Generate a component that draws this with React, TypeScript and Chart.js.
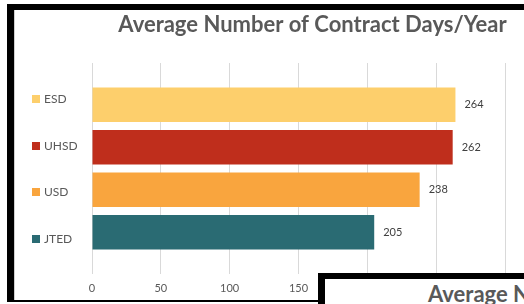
import React, { useEffect, useRef } from 'react';
import { Chart, registerables } from 'chart.js';

Chart.register(...registerables);

const titleText = 'Average Number of Contract Days/Year';
const secondTitleText = 'Average Number of Contract Days/Year';
const categories = [''];
const seriesNames = ['ESD', 'UHSD', 'USD', 'JTED'];
const seriesValues = [264, 262, 238, 205];
const seriesColors = ['#FDCF6C', '#BF2E1C', '#F9A53E', '#2A6B73'];
const xMin = 0;
const xMax = 300;
const xStep = 50;

const FONT = 'Lato, "Open Sans", sans-serif';

const sideLegend = {
  id: 'sideLegend',
  afterDraw(chart: any) {
    const ctx = chart.ctx;
    ctx.save();
    ctx.font = `12px ${FONT}`;
    ctx.textBaseline = 'middle';
    ctx.textAlign = 'left';
    chart.data.datasets.forEach((ds: any, i: number) => {
      const y = 89 + i * 46.7;
      ctx.fillStyle = ds.backgroundColor;
      ctx.fillRect(17, Math.round(y - 4), 8, 8);
      ctx.fillStyle = '#595959';
      ctx.fillText(ds.label, 29, y);
    });
    ctx.restore();
  },
};

const valueLabels = {
  id: 'valueLabels',
  afterDatasetsDraw(chart: any) {
    const ctx = chart.ctx;
    ctx.save();
    ctx.font = `11px ${FONT}`;
    ctx.fillStyle = '#404040';
    ctx.textBaseline = 'middle';
    ctx.textAlign = 'left';
    chart.data.datasets.forEach((ds: any, i: number) => {
      const meta = chart.getDatasetMeta(i);
      meta.data.forEach((bar: any, j: number) => {
        ctx.fillText(String(ds.data[j]), bar.x + 9, bar.y);
      });
    });
    ctx.restore();
  },
};

export default function App() {
  const ref = useRef<HTMLCanvasElement | null>(null);

  useEffect(() => {
    if (!ref.current) return;
    const chart = new Chart(ref.current, {
      type: 'bar',
      data: {
        labels: categories,
        datasets: seriesNames.map((name, i) => ({
          label: name,
          data: [seriesValues[i]],
          backgroundColor: seriesColors[i],
          borderWidth: 0,
          categoryPercentage: 0.806,
          barPercentage: 0.81,
        })),
      },
      options: {
        indexAxis: 'y',
        animation: false,
        responsive: false,
        maintainAspectRatio: false,
        layout: { padding: 0 },
        plugins: {
          legend: { display: false },
          tooltip: { enabled: false },
          title: {
            display: true,
            text: titleText,
            color: '#595959',
            font: { family: FONT, size: 22, weight: 'bold' },
            padding: { top: 1.5, bottom: 25.1 },
          },
        },
        scales: {
          x: {
            type: 'linear',
            min: xMin,
            max: xMax,
            ticks: {
              stepSize: xStep,
              color: '#595959',
              font: { family: FONT, size: 11 },
              padding: 8,
            },
            grid: { color: '#d9d9d9', lineWidth: 1, drawTicks: false },
            border: { display: false },
            afterFit: (scale: any) => {
              scale.height = 27;
            },
          },
          y: {
            type: 'category',
            position: 'left',
            display: true,
            ticks: { display: false },
            grid: { display: false, drawTicks: false },
            border: { display: false },
            afterFit: (scale: any) => {
              scale.width = 77;
            },
          },
          yRight: {
            type: 'category',
            position: 'right',
            display: true,
            ticks: { display: false },
            grid: { display: false, drawTicks: false },
            border: { display: false },
            afterFit: (scale: any) => {
              scale.width = 105;
            },
          },
        },
      },
      plugins: [sideLegend, valueLabels],
    } as any);
    return () => chart.destroy();
  }, []);

  return (
    <div
      style={{
        position: 'fixed',
        left: 0,
        top: 0,
        width: 524,
        height: 304,
        overflow: 'hidden',
        background: '#fff',
      }}
    >
      <div
        style={{
          position: 'absolute',
          left: 7,
          top: 4,
          width: 700,
          height: 290,
          borderLeft: '7px solid #000',
          borderTop: '6px solid #000',
          borderBottom: '2px solid #000',
          background: '#fff',
        }}
      />
      <div
        style={{
          position: 'absolute',
          left: 14,
          top: 10,
          width: 1,
          height: 290,
          background: '#cfcfcf',
        }}
      />
      <canvas
        ref={ref}
        width={595}
        height={291}
        style={{ position: 'absolute', left: 15, top: 10, width: 595, height: 291 }}
      />
      <div
        style={{
          position: 'absolute',
          left: 318,
          top: 273,
          width: 400,
          height: 100,
          borderLeft: '7px solid #000',
          borderTop: '6px solid #000',
          background: '#fff',
        }}
      >
        <div
          style={{
            position: 'absolute',
            left: 103,
            top: 2,
            whiteSpace: 'nowrap',
            fontFamily: FONT,
            fontWeight: 'bold',
            fontSize: 22,
            lineHeight: '26.4px',
            color: '#595959',
          }}
        >
          {secondTitleText}
        </div>
      </div>
    </div>
  );
}
